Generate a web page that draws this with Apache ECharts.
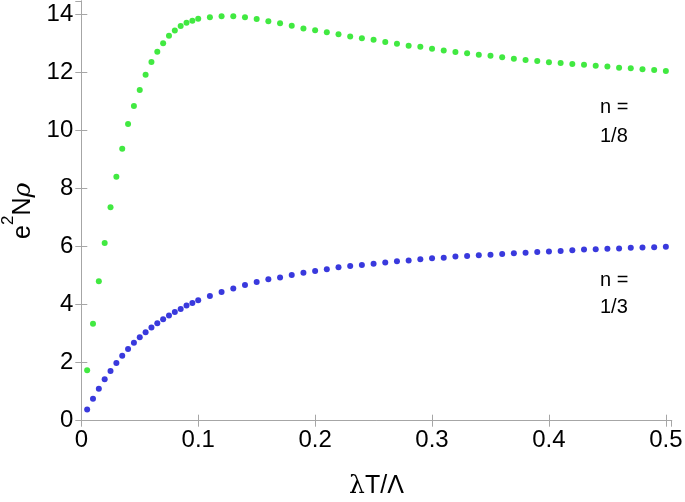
<!DOCTYPE html>
<html>
<head>
<meta charset="utf-8">
<style>
  html, body { margin: 0; padding: 0; background: #ffffff; }
  #chart { width: 685px; height: 502px; }
</style>
<script src="https://cdn.jsdelivr.net/npm/echarts@6/dist/echarts.min.js"></script>
</head>
<body>
<div id="chart"></div>
<script>
// ---- data ----
const xValues = [
  0.005, 0.01, 0.015, 0.02, 0.025, 0.03, 0.035, 0.04, 0.045, 0.05,
  0.055, 0.06, 0.065, 0.07, 0.075, 0.08, 0.085, 0.09, 0.095, 0.1,
  0.11, 0.12, 0.13, 0.14, 0.15, 0.16, 0.17, 0.18, 0.19, 0.2,
  0.21, 0.22, 0.23, 0.24, 0.25, 0.26, 0.27, 0.28, 0.29, 0.3,
  0.31, 0.32, 0.33, 0.34, 0.35, 0.36, 0.37, 0.38, 0.39, 0.4,
  0.41, 0.42, 0.43, 0.44, 0.45, 0.46, 0.47, 0.48, 0.49, 0.5
];
// n = 1/8 (green)
const seriesEighth = [
  1.74, 3.34, 4.81, 6.13, 7.36, 8.41, 9.38, 10.23, 10.85, 11.40,
  11.93, 12.37, 12.72, 13.01, 13.27, 13.45, 13.61, 13.72, 13.79, 13.86,
  13.91, 13.94, 13.94, 13.91, 13.85, 13.77, 13.70, 13.62, 13.52, 13.46,
  13.39, 13.32, 13.25, 13.19, 13.13, 13.06, 13.00, 12.93, 12.89, 12.82,
  12.76, 12.71, 12.67, 12.62, 12.58, 12.53, 12.48, 12.44, 12.40, 12.36,
  12.33, 12.30, 12.27, 12.24, 12.21, 12.17, 12.15, 12.12, 12.09, 12.06
];
// n = 1/3 (blue)
const seriesThird = [
  0.39, 0.76, 1.10, 1.43, 1.71, 1.99, 2.24, 2.47, 2.69, 2.88,
  3.05, 3.21, 3.36, 3.50, 3.63, 3.75, 3.85, 3.97, 4.06, 4.15,
  4.30, 4.44, 4.56, 4.68, 4.78, 4.88, 4.94, 5.02, 5.10, 5.16,
  5.22, 5.29, 5.33, 5.37, 5.41, 5.45, 5.50, 5.52, 5.57, 5.60,
  5.62, 5.66, 5.68, 5.70, 5.72, 5.75, 5.77, 5.79, 5.82, 5.83,
  5.85, 5.88, 5.90, 5.91, 5.93, 5.94, 5.96, 5.97, 5.98, 6.00
];
const xTickLabels = ['0', '0.1', '0.2', '0.3', '0.4', '0.5'];
const yTickLabels = ['0', '2', '4', '6', '8', '10', '12', '14'];
const seriesLabels = ['n =\n1/8', 'n =\n1/3'];

// ---- build ----
const FONT = '"Liberation Sans", Arial, Helvetica, sans-serif';
const frameColor = '#a6a6a6';
const X_MIN = 0, X_MAX = 0.505, Y_MIN = 0, Y_MAX = 14.47;

function pairs(ys) { return xValues.map((x, i) => [x, ys[i]]); }
function xLabel(v) {
  const idx = Math.round(v / 0.1);
  if (Math.abs(v - idx * 0.1) > 1e-6) return '';
  return xTickLabels[idx] !== undefined ? xTickLabels[idx] : '';
}
function yLabel(v) {
  const idx = Math.round(v / 2);
  if (Math.abs(v - idx * 2) > 1e-6) return '';
  return yTickLabels[idx] !== undefined ? yTickLabels[idx] : '';
}

const axisLine = { show: true, lineStyle: { color: frameColor, width: 1 } };
const axisTick = { show: true, inside: true, length: 6, lineStyle: { color: frameColor, width: 1 } };

const chart = echarts.init(document.getElementById('chart'), null, { renderer: 'canvas' });
const lab1 = seriesLabels[0].split('\n');
const lab2 = seriesLabels[1].split('\n');
chart.setOption({
  animation: false,
  backgroundColor: '#ffffff',
  grid: { left: 81.3, right: 13.3, top: 1, bottom: 81.3, containLabel: false, outerBoundsMode: 'none' },
  xAxis: [
    {
      type: 'value', position: 'bottom', min: X_MIN, max: X_MAX, interval: 0.1,
      axisLine: axisLine, axisTick: axisTick, splitLine: { show: false },
      axisLabel: { formatter: xLabel, showMaxLabel: false, color: '#000', fontFamily: FONT, fontSize: 24, margin: 8 },
      name: '{l|λ}{t|T/Λ}', nameLocation: 'middle', nameGap: 53,
      nameTextStyle: {
        color: '#000', fontFamily: FONT, fontSize: 25,
        rich: {
          l: { fontFamily: '"DejaVu Serif", "Liberation Serif", serif', fontSize: 25, color: '#000' },
          t: { fontFamily: FONT, fontSize: 25, color: '#000' }
        }
      }
    },
    {
      type: 'value', position: 'top', min: X_MIN, max: X_MAX, interval: 0.1,
      axisLine: axisLine, axisTick: axisTick, splitLine: { show: false },
      axisLabel: { show: false }
    }
  ],
  yAxis: [
    {
      type: 'value', position: 'left', min: Y_MIN, max: Y_MAX, interval: 2,
      axisLine: axisLine, axisTick: axisTick, splitLine: { show: false },
      axisLabel: { formatter: yLabel, showMaxLabel: false, color: '#000', fontFamily: FONT, fontSize: 24, margin: 8 },
      name: '{a|e}{s|2}{a|N}{r|ρ}', nameLocation: 'middle', nameGap: 34, nameRotate: 90,
      nameTextStyle: {
        color: '#000', fontFamily: FONT, fontSize: 25,
        rich: {
          a: { fontFamily: FONT, fontSize: 25, lineHeight: 36, verticalAlign: 'bottom', color: '#000' },
          s: { fontFamily: FONT, fontSize: 17, lineHeight: 17, verticalAlign: 'top', color: '#000' },
          r: { fontFamily: '"DejaVu Serif", "Liberation Serif", serif', fontStyle: 'italic', fontSize: 25, lineHeight: 36, verticalAlign: 'bottom', color: '#000' }
        }
      }
    },
    {
      type: 'value', position: 'right', min: Y_MIN, max: Y_MAX, interval: 2,
      axisLine: axisLine, axisTick: axisTick, splitLine: { show: false },
      axisLabel: { show: false }
    }
  ],
  series: [
    {
      name: seriesLabels[0], type: 'scatter', xAxisIndex: 0, yAxisIndex: 0,
      data: pairs(seriesEighth), symbol: 'circle', symbolSize: 6,
      itemStyle: { color: '#12e412' }, silent: true
    },
    {
      name: seriesLabels[1], type: 'scatter', xAxisIndex: 0, yAxisIndex: 0,
      data: pairs(seriesThird), symbol: 'circle', symbolSize: 6,
      itemStyle: { color: '#0808d4' }, silent: true
    }
  ],
  graphic: [
    { type: 'text', left: 600, top: 97, style: { text: lab1[0], font: '20px ' + FONT, fill: '#000' } },
    { type: 'text', left: 600, top: 126, style: { text: lab1[1], font: '20px ' + FONT, fill: '#000' } },
    { type: 'text', left: 600, top: 270, style: { text: lab2[0], font: '20px ' + FONT, fill: '#000' } },
    { type: 'text', left: 600, top: 297, style: { text: lab2[1], font: '20px ' + FONT, fill: '#000' } }
  ]
});
</script>
</body>
</html>
